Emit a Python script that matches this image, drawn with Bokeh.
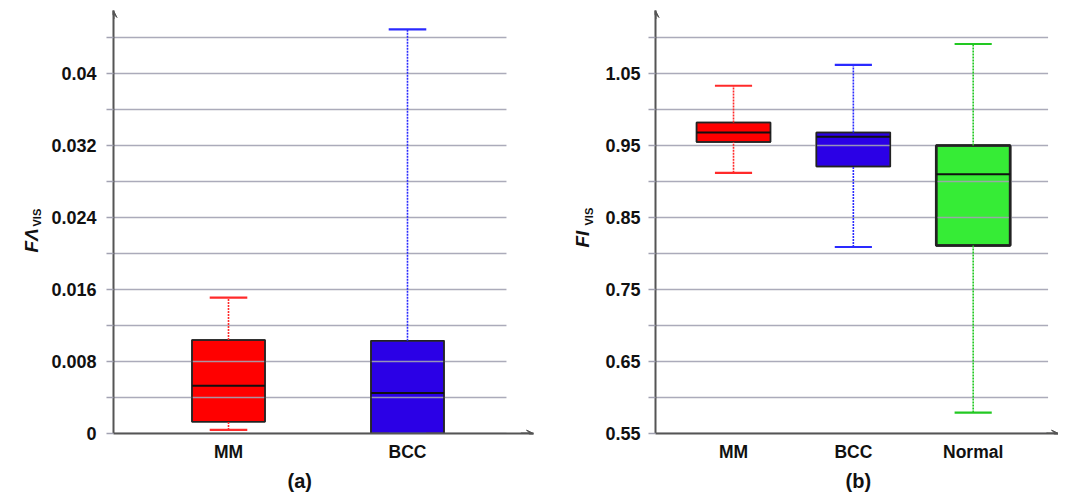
import numpy as np
from math import pi
from bokeh.plotting import figure
from bokeh.layouts import row
from bokeh.models import FixedTicker, Range1d, Label, Arrow, VeeHead, Title
from bokeh.embed import file_html
from bokeh.resources import INLINE

# ---------------- data: panel (a) ----------------
a_categories = ["MM", "BCC"]
a_lower = [0.0004, 0.0]
a_q1 = [0.0013, 0.0]
a_median = [0.0053, 0.0045]
a_q3 = [0.0104, 0.0103]
a_upper = [0.0151, 0.0449]
a_box_colors = ["#ff0000", "#2b00e6"]
a_whisker_colors = ["#ff2a2a", "#2a2aff"]
a_major_ticks = [0.0, 0.008, 0.016, 0.024, 0.032, 0.04]
a_tick_labels = ["0", "0.008", "0.016", "0.024", "0.032", "0.04"]
a_minor_ticks = [0.004, 0.012, 0.02, 0.028, 0.036, 0.044]

# ---------------- data: panel (b) ----------------
b_categories = ["MM", "BCC", "Normal"]
b_lower = [0.912, 0.809, 0.579]
b_q1 = [0.955, 0.921, 0.811]
b_median = [0.968, 0.962, 0.910]
b_q3 = [0.982, 0.968, 0.950]
b_upper = [1.033, 1.062, 1.091]
b_box_colors = ["#ff0000", "#2b00e6", "#36ec36"]
b_whisker_colors = ["#ff2a2a", "#2a2aff", "#22c822"]
b_major_ticks = [0.55, 0.65, 0.75, 0.85, 0.95, 1.05]
b_tick_labels = ["0.55", "0.65", "0.75", "0.85", "0.95", "1.05"]
b_minor_ticks = [0.60, 0.70, 0.80, 0.90, 1.00, 1.10]

FONT = "Liberation Sans"
GRID = "#a2a2b2"
AXIS = "#555555"
H = 496
TOP = 10
FRAME_H = 423


def ylabel_fig(width, main, main_x, main_y, sub_x, sub_y):
    f = figure(width=width, height=H, frame_width=width, frame_height=H,
               min_border=0, x_range=Range1d(0, width), y_range=Range1d(0, H),
               x_axis_type=None, y_axis_type=None,
               output_backend="svg", toolbar_location=None, tools="")
    f.outline_line_color = None
    f.xgrid.visible = False
    f.ygrid.visible = False
    f.add_layout(Label(x=main_x, y=H - main_y, text=main, angle=pi / 2,
                       text_font=FONT, text_font_style="bold italic",
                       text_font_size="19px", text_align="left",
                       text_baseline="alphabetic", text_color="#111111"))
    f.add_layout(Label(x=sub_x, y=H - sub_y, text="VIS", angle=pi / 2,
                       text_font=FONT, text_font_style="bold",
                       text_font_size="11px", text_align="left",
                       text_baseline="alphabetic", text_color="#111111"))
    return f


def make_panel(cats, lower, q1, med, q3, upper, box_colors, wcolors,
               major, labels, minor, x_range, y_range, grid_end,
               box_w, cap_w, frame_w, border_left, border_right,
               outline_widths, panel_label, panel_offset, label_standoff):
    p = figure(width=border_left + frame_w + border_right, height=H,
               frame_width=frame_w, frame_height=FRAME_H,
               min_border_left=border_left, min_border_right=border_right,
               min_border_top=TOP, min_border_bottom=H - TOP - FRAME_H,
               x_range=Range1d(*x_range), y_range=Range1d(*y_range),
               output_backend="svg", toolbar_location=None, tools="")
    p.outline_line_color = None
    p.xgrid.visible = False
    p.ygrid.visible = False

    x = np.arange(1, len(cats) + 1, dtype=float)
    lower = np.array(lower); q1 = np.array(q1); med = np.array(med)
    q3 = np.array(q3); upper = np.array(upper)

    # boxes
    p.vbar(x=x, width=box_w, bottom=q1, top=q3, fill_color=box_colors,
           line_color="#333333", line_width=outline_widths)

    # grid lines (drawn over the boxes, as in the reference)
    allt = sorted(list(major) + list(minor))
    p.segment(x0=[x_range[0]] * len(allt), x1=[grid_end] * len(allt),
              y0=allt, y1=allt, line_color=GRID, line_width=1.5, line_alpha=0.9)

    # box outlines again on top
    p.vbar(x=x, width=box_w, bottom=q1, top=q3, fill_color=None,
           line_color="#222222", line_width=outline_widths)
    # medians
    p.segment(x0=x - box_w / 2, x1=x + box_w / 2, y0=med, y1=med,
              line_color="#111111", line_width=2)
    # whiskers
    p.segment(x0=x, x1=x, y0=q3, y1=upper, line_color=wcolors,
              line_width=1.6, line_dash="2 1")
    p.segment(x0=x, x1=x, y0=lower, y1=q1, line_color=wcolors,
              line_width=1.6, line_dash="2 1")
    # caps
    p.segment(x0=x - cap_w / 2, x1=x + cap_w / 2, y0=upper, y1=upper,
              line_color=wcolors, line_width=2.2)
    p.segment(x0=x - cap_w / 2, x1=x + cap_w / 2, y0=lower, y1=lower,
              line_color=wcolors, line_width=2.2)

    # y axis
    ya = p.yaxis[0]
    ya.ticker = FixedTicker(ticks=list(major), minor_ticks=list(minor))
    ya.major_label_overrides = {float(t): l for t, l in zip(major, labels)}
    ya.axis_line_color = AXIS
    ya.axis_line_width = 2
    ya.major_tick_line_color = GRID
    ya.minor_tick_line_color = GRID
    ya.major_tick_line_width = 1.5
    ya.minor_tick_line_width = 1.5
    ya.major_tick_out = 7
    ya.major_tick_in = 0
    ya.minor_tick_out = 7
    ya.minor_tick_in = 0
    ya.major_label_standoff = label_standoff
    ya.major_label_text_font = FONT
    ya.major_label_text_font_style = "bold"
    ya.major_label_text_font_size = "18px"
    ya.major_label_text_color = "#111111"

    # x axis
    xa = p.xaxis[0]
    xa.ticker = FixedTicker(ticks=list(x), minor_ticks=[])
    xa.major_label_overrides = {float(v): c for v, c in zip(x, cats)}
    xa.axis_line_color = AXIS
    xa.axis_line_width = 2
    xa.major_tick_line_color = None
    xa.minor_tick_line_color = None
    xa.major_tick_out = 0
    xa.major_tick_in = 0
    xa.major_label_standoff = 8
    xa.major_label_text_font = FONT
    xa.major_label_text_font_style = "bold"
    xa.major_label_text_font_size = "17.5px"
    xa.major_label_text_color = "#111111"

    # axis arrow heads
    p.add_layout(Arrow(end=VeeHead(size=7, line_color=AXIS, fill_color=AXIS, line_width=1),
                       x_start=x_range[0], y_start=y_range[1] - (y_range[1] - y_range[0]) * 0.02,
                       x_end=x_range[0], y_end=y_range[1], line_color=AXIS, line_width=2))
    p.add_layout(Arrow(end=VeeHead(size=7, line_color=AXIS, fill_color=AXIS, line_width=1),
                       x_start=x_range[1] - (x_range[1] - x_range[0]) * 0.03, y_start=y_range[0],
                       x_end=x_range[1], y_end=y_range[0], line_color=AXIS, line_width=2))

    # panel label below
    p.add_layout(Title(text=panel_label, align="left", offset=panel_offset,
                       text_font=FONT, text_font_style="bold",
                       text_font_size="20px", text_color="#111111",
                       standoff=6), "below")
    return p


ya_fig = ylabel_fig(45, "F\u039b", 31, 242, 36, 216)
pa = make_panel(a_categories, a_lower, a_q1, a_median, a_q3, a_upper,
                a_box_colors, a_whisker_colors, a_major_ticks, a_tick_labels,
                a_minor_ticks, x_range=(0.3575, 2.704), y_range=(0.0, 0.047),
                grid_end=2.553, box_w=0.408, cap_w=0.21, frame_w=420,
                border_left=68, border_right=7, outline_widths=1.5,
                panel_label="(a)", panel_offset=174, label_standoff=10)

yb_fig = ylabel_fig(60, "FI", 42, 237, 48, 215)
pb = make_panel(b_categories, b_lower, b_q1, b_median, b_q3, b_upper,
                b_box_colors, b_whisker_colors, b_major_ticks, b_tick_labels,
                b_minor_ticks, x_range=(0.349, 3.712), y_range=(0.55, 1.1375),
                grid_end=3.625, box_w=0.617, cap_w=0.31, frame_w=403,
                border_left=55, border_right=0, outline_widths=[1.5, 1.5, 2.5],
                panel_label="(b)", panel_offset=190, label_standoff=8)

layout = row(ya_fig, pa, yb_fig, pb, spacing=0)
open("out.html", "w").write(file_html(layout, INLINE))
